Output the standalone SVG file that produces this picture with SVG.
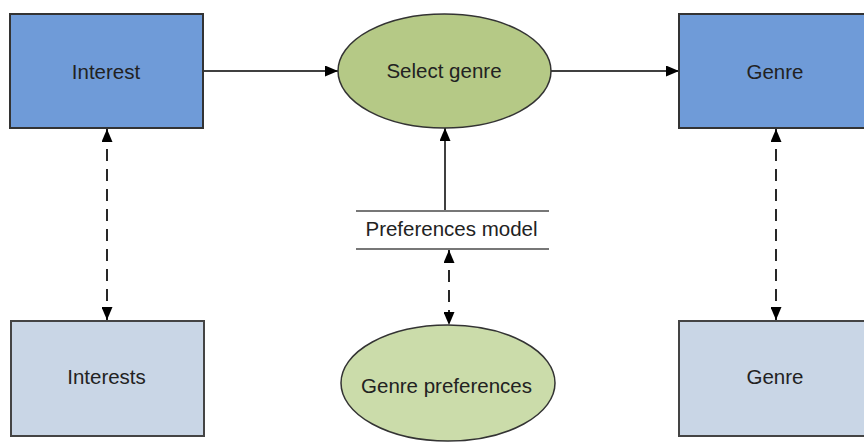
<svg xmlns="http://www.w3.org/2000/svg" width="864" height="442" viewBox="0 0 864 442">
<defs>
<style>
.top{fill:#6f9bd8;stroke:#333;stroke-width:2}
.bot{fill:#c9d6e6;stroke:#444;stroke-width:2}
.proc{fill:#b5c986;stroke:#333;stroke-width:1.5}
.proc2{fill:#cbdcaa;stroke:#333;stroke-width:1.5}
.lbl{font-family:"Liberation Sans",Arial,sans-serif;font-size:20.5px;fill:#222;text-anchor:middle;dominant-baseline:central}
.ln{stroke:#000;stroke-width:1.5;fill:none}
.dash{stroke:#111;stroke-width:1.8;fill:none;stroke-dasharray:12 8}
.store{stroke:#777;stroke-width:2}
</style>
<marker id="ah" viewBox="0 0 13 11" refX="13" refY="5.5" markerWidth="13" markerHeight="11" markerUnits="userSpaceOnUse" orient="auto-start-reverse">
<path d="M0,0 L13,5.5 L0,11 z" fill="#000"/>
</marker>
</defs>
<g id="connectors">
<line class="ln" x1="203" y1="71" x2="338" y2="71" marker-end="url(#ah)"/>
<line class="ln" x1="551" y1="71" x2="679" y2="71" marker-end="url(#ah)"/>
<line class="ln" x1="445" y1="211" x2="445" y2="128" marker-end="url(#ah)"/>
<line class="dash" x1="107" y1="129" x2="107" y2="320" marker-start="url(#ah)" marker-end="url(#ah)"/>
<line class="dash" x1="776" y1="129" x2="776" y2="320" marker-start="url(#ah)" marker-end="url(#ah)"/>
<line class="dash" x1="449" y1="250" x2="449" y2="325" marker-start="url(#ah)" marker-end="url(#ah)"/>
</g>
<g id="interest">
<rect class="top" x="10" y="14" width="193" height="114"/>
<text class="lbl" x="106" y="71">Interest</text>
</g>
<g id="select-genre">
<ellipse class="proc" cx="444.5" cy="71" rx="106.5" ry="57"/>
<text class="lbl" x="444" y="70.5">Select genre</text>
</g>
<g id="genre-top">
<rect class="top" x="679" y="14" width="192" height="114"/>
<text class="lbl" x="775" y="71">Genre</text>
</g>
<g id="preferences-model">
<line class="store" x1="356" y1="211" x2="549" y2="211"/>
<line class="store" x1="356" y1="249" x2="549" y2="249"/>
<text class="lbl" x="451.5" y="228.5">Preferences model</text>
</g>
<g id="interests">
<rect class="bot" x="11" y="321" width="193" height="115"/>
<text class="lbl" x="106.5" y="376">Interests</text>
</g>
<g id="genre-preferences">
<ellipse class="proc2" cx="448" cy="383" rx="107" ry="58"/>
<text class="lbl" x="446.5" y="385.5">Genre preferences</text>
</g>
<g id="genre-bottom">
<rect class="bot" x="679" y="321" width="192" height="115"/>
<text class="lbl" x="775" y="376.5">Genre</text>
</g>
</svg>
